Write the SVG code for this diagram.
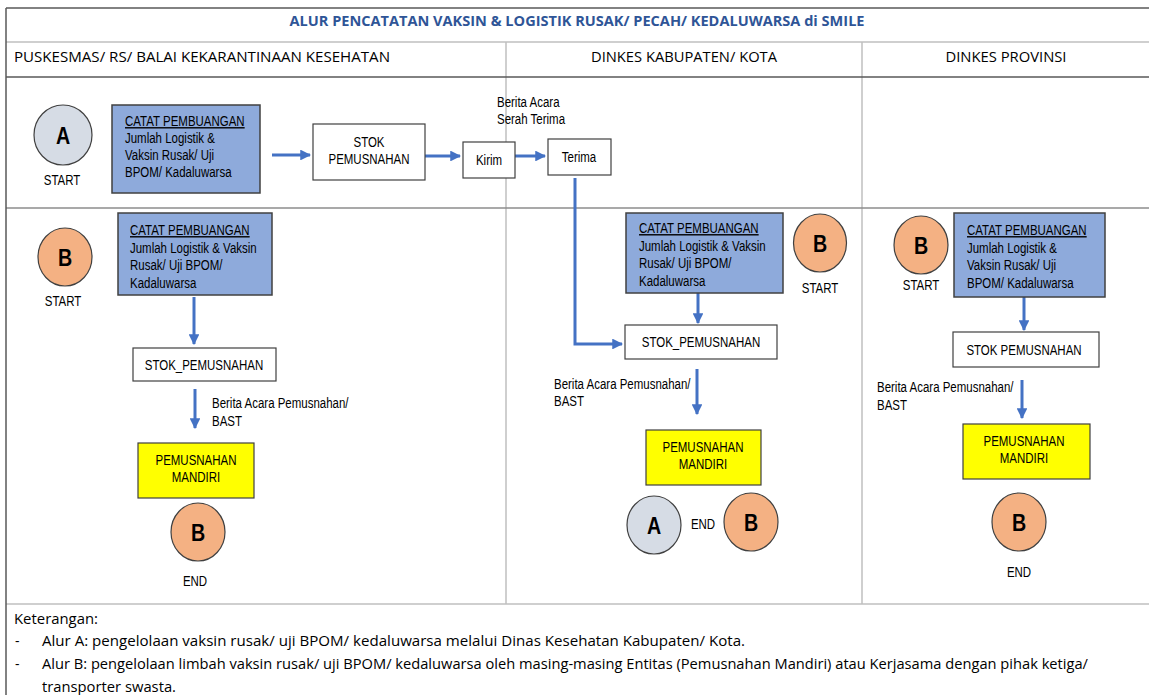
<svg xmlns="http://www.w3.org/2000/svg" width="1149" height="695" viewBox="0 0 1149 695">
  <defs>
    <marker id="arr" viewBox="0 0 10 10" refX="9" refY="5" markerWidth="3.6" markerHeight="3.6" orient="auto" markerUnits="strokeWidth">
      <path d="M0,0 L10,5 L0,10 z" fill="#4472C4"/>
    </marker>
    <style>
      .grid-lt { stroke: #BFBFBF; stroke-width: 1.5; fill: none; }
      .grid-md { stroke: #8C8C8C; stroke-width: 1.5; fill: none; }
      .grid-dk { stroke: #595959; stroke-width: 1.5; fill: none; }
      .hdr { font-family: "Open Sans", "Liberation Sans", sans-serif; font-size: 14px; fill: #000; }
      .title { font-family: "Open Sans", "Liberation Sans", sans-serif; font-size: 14px; font-weight: bold; fill: #2F5597; }
      .note { font-family: "Open Sans", "Liberation Sans", sans-serif; font-size: 14px; fill: #000; }
      .t { font-family: "Liberation Sans", Arial, sans-serif; font-size: 14px; fill: #000; }
      .tc { font-family: "Liberation Sans", Arial, sans-serif; font-size: 14px; fill: #000; text-anchor: middle; }
      .u { text-decoration: underline; }
      .big { font-family: "Liberation Sans", Arial, sans-serif; font-size: 24px; font-weight: bold; fill: #000; text-anchor: middle; }
      .blue { fill: #8EAADB; stroke: #404040; stroke-width: 1.5; }
      .white { fill: #FFFFFF; stroke: #404040; stroke-width: 1.2; }
      .yellow { fill: #FFFF00; stroke: #404040; stroke-width: 1.2; }
      .ca { fill: #D6DCE5; stroke: #404040; stroke-width: 1.2; }
      .cb { fill: #F4B183; stroke: #404040; stroke-width: 1.2; }
      .flow { stroke: #4472C4; stroke-width: 3; fill: none; }
    </style>
  </defs>

  <rect x="0" y="0" width="1149" height="695" fill="#FFFFFF"/>

  <!-- table grid -->
  <g id="grid">
    <line class="grid-lt" x1="6" y1="42" x2="1149" y2="42"/>
    <line class="grid-lt" x1="506" y1="42" x2="506" y2="604"/>
    <line class="grid-lt" x1="862" y1="42" x2="862" y2="604"/>
    <line class="grid-md" x1="6" y1="208" x2="1149" y2="208"/>
    <line class="grid-lt" x1="6" y1="604" x2="1149" y2="604"/>
    <line class="grid-dk" x1="6" y1="8" x2="1149" y2="8"/>
    <line class="grid-dk" x1="6" y1="77" x2="1149" y2="77"/>
    <line class="grid-dk" x1="6" y1="8" x2="6" y2="695"/>
  </g>

  <!-- headings -->
  <g id="headings">
    <text class="title" x="577" y="26" text-anchor="middle" textLength="575" lengthAdjust="spacingAndGlyphs">ALUR PENCATATAN VAKSIN &amp; LOGISTIK RUSAK/ PECAH/ KEDALUWARSA di SMILE</text>
    <text class="hdr" x="14" y="62" textLength="376" lengthAdjust="spacingAndGlyphs">PUSKESMAS/ RS/ BALAI KEKARANTINAAN KESEHATAN</text>
    <text class="hdr" x="684" y="62" text-anchor="middle" textLength="186" lengthAdjust="spacingAndGlyphs">DINKES KABUPATEN/ KOTA</text>
    <text class="hdr" x="1006" y="62" text-anchor="middle" textLength="121" lengthAdjust="spacingAndGlyphs">DINKES PROVINSI</text>
  </g>

  <!-- connectors and their labels (condensed text via horizontal scale) -->
  <g id="connectors">
    <line class="flow" x1="272" y1="155" x2="310" y2="155" marker-end="url(#arr)"/>
    <line class="flow" x1="418" y1="156" x2="460" y2="156" marker-end="url(#arr)"/>
    <line class="flow" x1="515" y1="156" x2="545" y2="156" marker-end="url(#arr)"/>
    <polyline class="flow" points="575,178 575,344 622,344" marker-end="url(#arr)"/>
    <line class="flow" x1="194" y1="297" x2="194" y2="344" marker-end="url(#arr)"/>
    <line class="flow" x1="195" y1="389" x2="195" y2="428" marker-end="url(#arr)"/>
    <line class="flow" x1="698" y1="293" x2="698" y2="323" marker-end="url(#arr)"/>
    <line class="flow" x1="697" y1="369" x2="697" y2="414" marker-end="url(#arr)"/>
    <line class="flow" x1="1024" y1="297" x2="1024" y2="330" marker-end="url(#arr)"/>
    <line class="flow" x1="1022" y1="380" x2="1022" y2="418" marker-end="url(#arr)"/>
    <text class="t" transform="translate(497,107) scale(0.82,1)">Berita Acara</text>
    <text class="t" transform="translate(497,124) scale(0.82,1)">Serah Terima</text>
    <text class="t" transform="translate(212,408) scale(0.82,1)">Berita Acara Pemusnahan/</text>
    <text class="t" transform="translate(212,426) scale(0.82,1)">BAST</text>
    <text class="t" transform="translate(554,389) scale(0.82,1)">Berita Acara Pemusnahan/</text>
    <text class="t" transform="translate(554,406) scale(0.82,1)">BAST</text>
    <text class="t" transform="translate(877,392) scale(0.82,1)">Berita Acara Pemusnahan/</text>
    <text class="t" transform="translate(877,410) scale(0.82,1)">BAST</text>
  </g>

  <!-- row A: puskesmas to dinkes kab/kota -->
  <g id="startA">
    <ellipse class="ca" cx="63" cy="135" rx="29" ry="30"/>
    <text class="big" transform="translate(63,144) scale(0.82,1)">A</text>
    <text class="tc" transform="translate(62,185) scale(0.82,1)">START</text>
  </g>
  <g id="catatA">
    <rect class="blue" x="112" y="105" width="148" height="88"/>
    <text class="t u" transform="translate(125,126) scale(0.82,1)">CATAT PEMBUANGAN</text>
    <text class="t" transform="translate(125,143) scale(0.82,1)">Jumlah Logistik &amp;</text>
    <text class="t" transform="translate(125,160) scale(0.82,1)">Vaksin Rusak/ Uji</text>
    <text class="t" transform="translate(125,177) scale(0.82,1)">BPOM/ Kadaluwarsa</text>
  </g>
  <g id="stokA">
    <rect class="white" x="313" y="124" width="112" height="56"/>
    <text class="tc" transform="translate(369,147) scale(0.82,1)">STOK</text>
    <text class="tc" transform="translate(369,164) scale(0.82,1)">PEMUSNAHAN</text>
  </g>
  <g id="kirim">
    <rect class="white" x="463" y="142" width="52" height="36"/>
    <text class="tc" transform="translate(489,165) scale(0.82,1)">Kirim</text>
  </g>
  <g id="terima">
    <rect class="white" x="548" y="139" width="63" height="36"/>
    <text class="tc" transform="translate(579,162) scale(0.82,1)">Terima</text>
  </g>

  <!-- row B, column 1 -->
  <g id="startB1">
    <ellipse class="cb" cx="65" cy="257" rx="27" ry="29"/>
    <text class="big" transform="translate(65,266) scale(0.82,1)">B</text>
    <text class="tc" transform="translate(63,306) scale(0.82,1)">START</text>
  </g>
  <g id="catatB1">
    <rect class="blue" x="118" y="213" width="154" height="82"/>
    <text class="t u" transform="translate(130,235) scale(0.82,1)">CATAT PEMBUANGAN</text>
    <text class="t" transform="translate(130,253) scale(0.82,1)">Jumlah Logistik &amp; Vaksin</text>
    <text class="t" transform="translate(130,270) scale(0.82,1)">Rusak/ Uji BPOM/</text>
    <text class="t" transform="translate(130,288) scale(0.82,1)">Kadaluwarsa</text>
  </g>
  <g id="stokB1">
    <rect class="white" x="133" y="348" width="143" height="33"/>
    <text class="tc" transform="translate(204,370) scale(0.82,1)">STOK_PEMUSNAHAN</text>
  </g>
  <g id="mandiri1">
    <rect class="yellow" x="138" y="443" width="116" height="55"/>
    <text class="tc" transform="translate(196,465) scale(0.82,1)">PEMUSNAHAN</text>
    <text class="tc" transform="translate(196,482) scale(0.82,1)">MANDIRI</text>
  </g>
  <g id="endB1">
    <ellipse class="cb" cx="198" cy="532" rx="27" ry="29"/>
    <text class="big" transform="translate(198,541) scale(0.82,1)">B</text>
    <text class="tc" transform="translate(195,586) scale(0.82,1)">END</text>
  </g>

  <!-- row B, column 2 -->
  <g id="catatB2">
    <rect class="blue" x="626" y="213" width="157" height="80"/>
    <text class="t u" transform="translate(639,233) scale(0.82,1)">CATAT PEMBUANGAN</text>
    <text class="t" transform="translate(639,251) scale(0.82,1)">Jumlah Logistik &amp; Vaksin</text>
    <text class="t" transform="translate(639,268) scale(0.82,1)">Rusak/  Uji BPOM/</text>
    <text class="t" transform="translate(639,286) scale(0.82,1)">Kadaluwarsa</text>
  </g>
  <g id="startB2">
    <ellipse class="cb" cx="820" cy="243" rx="26.5" ry="29"/>
    <text class="big" transform="translate(820,252) scale(0.82,1)">B</text>
    <text class="tc" transform="translate(820,293) scale(0.82,1)">START</text>
  </g>
  <g id="stokB2">
    <rect class="white" x="625" y="325" width="152" height="34"/>
    <text class="tc" transform="translate(701,347) scale(0.82,1)">STOK_PEMUSNAHAN</text>
  </g>
  <g id="mandiri2">
    <rect class="yellow" x="646" y="430" width="115" height="55"/>
    <text class="tc" transform="translate(703,452) scale(0.82,1)">PEMUSNAHAN</text>
    <text class="tc" transform="translate(703,469) scale(0.82,1)">MANDIRI</text>
  </g>
  <g id="endA2">
    <ellipse class="ca" cx="654" cy="525" rx="27" ry="29"/>
    <text class="big" transform="translate(654,534) scale(0.82,1)">A</text>
  </g>
  <g id="endLabel2">
    <text class="tc" transform="translate(703,529) scale(0.82,1)">END</text>
  </g>
  <g id="endB2">
    <ellipse class="cb" cx="751" cy="522" rx="27" ry="29"/>
    <text class="big" transform="translate(751,531) scale(0.82,1)">B</text>
  </g>

  <!-- row B, column 3 -->
  <g id="startB3">
    <ellipse class="cb" cx="921" cy="245" rx="27" ry="29"/>
    <text class="big" transform="translate(921,254) scale(0.82,1)">B</text>
    <text class="tc" transform="translate(921,290) scale(0.82,1)">START</text>
  </g>
  <g id="catatB3">
    <rect class="blue" x="954" y="213" width="151" height="84"/>
    <text class="t u" transform="translate(967,235) scale(0.82,1)">CATAT PEMBUANGAN</text>
    <text class="t" transform="translate(967,253) scale(0.82,1)">Jumlah Logistik &amp;</text>
    <text class="t" transform="translate(967,270) scale(0.82,1)">Vaksin Rusak/  Uji</text>
    <text class="t" transform="translate(967,288) scale(0.82,1)">BPOM/ Kadaluwarsa</text>
  </g>
  <g id="stokB3">
    <rect class="white" x="953" y="332" width="146" height="35"/>
    <text class="tc" transform="translate(1024,355) scale(0.82,1)">STOK PEMUSNAHAN</text>
  </g>
  <g id="mandiri3">
    <rect class="yellow" x="963" y="424" width="127" height="55"/>
    <text class="tc" transform="translate(1024,446) scale(0.82,1)">PEMUSNAHAN</text>
    <text class="tc" transform="translate(1024,463) scale(0.82,1)">MANDIRI</text>
  </g>
  <g id="endB3">
    <ellipse class="cb" cx="1019" cy="522" rx="27" ry="29"/>
    <text class="big" transform="translate(1019,531) scale(0.82,1)">B</text>
    <text class="tc" transform="translate(1019,577) scale(0.82,1)">END</text>
  </g>

  <!-- legend -->
  <g id="legend">
    <text class="note" x="14" y="624" textLength="84" lengthAdjust="spacingAndGlyphs">Keterangan:</text>
    <text class="note" x="15" y="646">-</text>
    <text class="note" x="42" y="646" textLength="703" lengthAdjust="spacingAndGlyphs">Alur A: pengelolaan vaksin rusak/ uji BPOM/ kedaluwarsa melalui Dinas Kesehatan Kabupaten/ Kota.</text>
    <text class="note" x="15" y="669">-</text>
    <text class="note" x="42" y="669" textLength="1046" lengthAdjust="spacingAndGlyphs">Alur B: pengelolaan limbah vaksin rusak/ uji BPOM/ kedaluwarsa oleh masing-masing Entitas (Pemusnahan Mandiri) atau Kerjasama dengan pihak ketiga/</text>
    <text class="note" x="42" y="692" textLength="134" lengthAdjust="spacingAndGlyphs">transporter swasta.</text>
  </g>
</svg>
